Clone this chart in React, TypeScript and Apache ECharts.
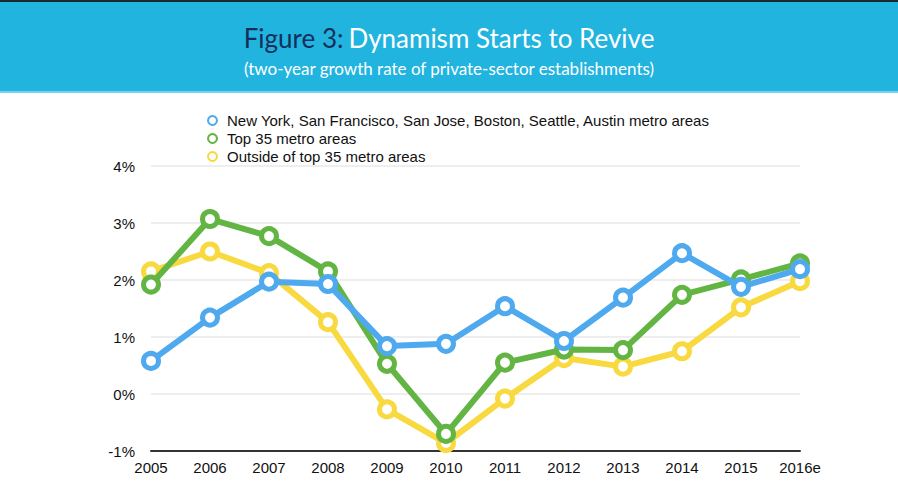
import React, { useEffect, useRef } from "react";
import * as echarts from "echarts";

const years = ["2005", "2006", "2007", "2008", "2009", "2010", "2011", "2012", "2013", "2014", "2015", "2016e"];
const bigSix = [0.58, 1.34, 1.97, 1.93, 0.84, 0.88, 1.54, 0.93, 1.69, 2.47, 1.88, 2.19];
const top35 = [1.92, 3.07, 2.77, 2.15, 0.53, -0.7, 0.55, 0.78, 0.77, 1.74, 2.01, 2.29];
const outside = [2.15, 2.5, 2.12, 1.26, -0.27, -0.86, -0.08, 0.63, 0.48, 0.75, 1.52, 1.98];
const names = [
  "New York, San Francisco, San Jose, Boston, Seattle, Austin metro areas",
  "Top 35 metro areas",
  "Outside of top 35 metro areas",
];
const colors = ["#4ea9ef", "#63b543", "#f8d940"];

export default function App() {
  const ref = useRef<HTMLDivElement>(null);
  useEffect(() => {
    if (!ref.current) return;
    const chart = echarts.init(ref.current, null, { renderer: "svg" });
    const mk = (name: string, data: number[], color: string, z: number) => ({
      name,
      type: "line",
      data,
      z,
      symbol: "circle",
      symbolSize: 15,
      lineStyle: { color, width: 6 },
      itemStyle: { color: "#ffffff", borderColor: color, borderWidth: 5 },
      emphasis: { disabled: true },
    });
    chart.setOption({
      animation: false,
      backgroundColor: "#ffffff",
      textStyle: { fontFamily: "Liberation Sans" },
      graphic: [
        { type: "rect", shape: { x: 0, y: 0, width: 898, height: 92 }, style: { fill: "#21b4df" }, z: -10 },
        { type: "rect", shape: { x: 0, y: 0, width: 898, height: 2 }, style: { fill: "#1c2833" }, z: -9 },
        { type: "rect", shape: { x: 0, y: 91, width: 898, height: 2 }, style: { fill: "#7ccfee" }, z: -9 },
      ],
      title: [
        {
          text: "{a|Figure 3:} {b|Dynamism Starts to Revive}",
          left: "center",
          top: 20,
          textStyle: {
            fontWeight: "normal",
            rich: {
              a: { fontFamily: "Lato", fontSize: 26, fontWeight: "normal", color: "#14305a" },
              b: { fontFamily: "Lato", fontSize: 26, fontWeight: "normal", color: "#ffffff" },
            },
          },
        },
        {
          text: "(two-year growth rate of private-sector establishments)",
          left: "center",
          top: 55,
          textStyle: { fontFamily: "Lato", fontSize: 17, fontWeight: "normal", color: "#ffffff" },
        },
      ],
      legend: {
        orient: "vertical",
        left: 202,
        top: 108,
        itemGap: 3,
        itemWidth: 9,
        itemHeight: 9,
        icon: "circle",
        data: names,
        textStyle: { fontSize: 15, color: "#111111", fontFamily: "Liberation Sans", padding: [0, 0, 0, 5] },
        selectedMode: false,
      },
      grid: { left: 151, right: 98, top: 166, bottom: 31 },
      xAxis: {
        type: "category",
        data: years,
        boundaryGap: false,
        axisLine: { onZero: false, lineStyle: { color: "#333333", width: 2 } },
        axisTick: { show: false },
        axisLabel: { fontSize: 15, color: "#111111", margin: 9 },
      },
      yAxis: {
        type: "value",
        min: -1,
        max: 4,
        interval: 1,
        axisLine: { show: false },
        axisTick: { show: false },
        axisLabel: { fontSize: 15, color: "#111111", margin: 16, formatter: (v: number) => v + "%" },
        splitLine: { lineStyle: { color: "#e8e8e8", width: 1.5 } },
      },
      series: [
        mk(names[2], outside, colors[2], 2),
        mk(names[1], top35, colors[1], 3),
        mk(names[0], bigSix, colors[0], 4),
      ],
    });
    return () => chart.dispose();
  }, []);
  return <div ref={ref} style={{ position: "fixed", left: 0, top: 0, width: 898, height: 482 }} />;
}
